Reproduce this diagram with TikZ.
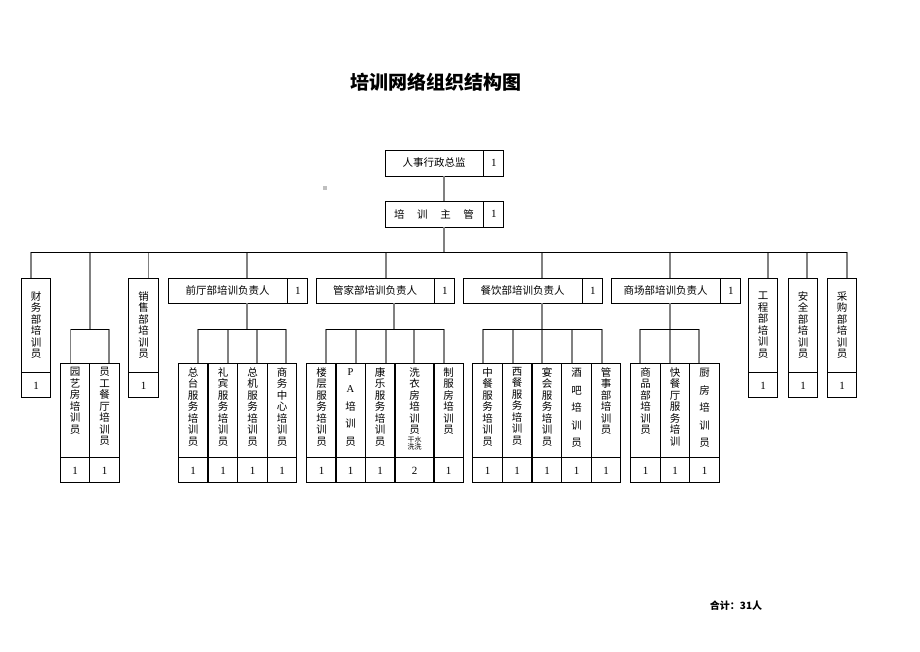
\documentclass[tikz,border=0pt]{standalone}
\usepackage{fontspec}
\setmainfont{Noto Sans CJK SC}
\newfontfamily\numfont{Liberation Serif}
\usetikzlibrary{positioning}

\tikzset{
  box/.style={draw, line width=0.9pt, inner sep=0pt},
  hname/.style={box, minimum height=25pt, font=\fontsize{10.5}{12}\selectfont},
  hnum/.style={box, minimum height=25pt, minimum width=20pt, font=\numfont\fontsize{11}{12}\selectfont},
  vname/.style={box, minimum width=29.5pt, minimum height=94pt, align=center, font=\fontsize{10.5}{11.5}\selectfont},
  vtext/.style={anchor=north, inner sep=0pt, yshift=-4.5pt, align=center, font=\fontsize{10.5}{11.5}\selectfont},
  wtext/.style={vtext, yshift=-1pt, font=\fontsize{10.5}{17.5}\selectfont},
  subname/.style={vname, label={[vtext]north:{#1}}},
  widename/.style={vname, label={[wtext]north:{#1}}},
  vnum/.style={box, minimum width=29.5pt, minimum height=25pt, font=\numfont\fontsize{11}{12}\selectfont},
  vline/.style={draw=black!50, line width=1.3pt},
  hline/.style={draw=black, line width=0.9pt},
}

\begin{document}
\begin{tikzpicture}[x=1pt,y=-1pt]
  \useasboundingbox (0,0) rectangle (920,651);

  \node[font=\fontsize{19}{19}\selectfont\bfseries] (title) at (436,82) {培训网络组织结构图};

  % top
  \node[hname, minimum width=98pt, minimum height=26pt] (dir) at (434,163) {人事行政总监};
  \node[hnum, minimum height=26pt, right=0pt of dir] (dir-n) {1};
  \node[hname, minimum width=98pt, minimum height=26pt] (sup) at (434,214) {培\hspace{1.2em}训\hspace{1.2em}主\hspace{1.2em}管};
  \node[hnum, minimum height=26pt, right=0pt of sup] (sup-n) {1};
  \fill[black!25] (323,186) rectangle (327,190);

  % department heads
  \node[hname, minimum width=119pt] (qt) at (227.5,290.5) {前厅部培训负责人};
  \node[hnum, right=0pt of qt] (qt-n) {1};
  \node[hname, minimum width=118pt] (gj) at (375,290.5) {管家部培训负责人};
  \node[hnum, right=0pt of gj] (gj-n) {1};
  \node[hname, minimum width=119pt] (cy) at (522.5,290.5) {餐饮部培训负责人};
  \node[hnum, right=0pt of cy] (cy-n) {1};
  \node[hname, minimum width=109pt] (sc) at (665.5,290.5) {商场部培训负责人};
  \node[hnum, right=0pt of sc] (sc-n) {1};

  % single trainers
  \node[vname] (cw) at (36,325) {财\\务\\部\\培\\训\\员};
  \node[vnum, below=0pt of cw] (cw-n) {1};
  \node[vname] (xs) at (143.5,325) {销\\售\\部\\培\\训\\员};
  \node[vnum, below=0pt of xs] (xs-n) {1};
  \node[vname] (gc) at (763,325) {工\\程\\部\\培\\训\\员};
  \node[vnum, below=0pt of gc] (gc-n) {1};
  \node[vname] (aq) at (803,325) {安\\全\\部\\培\\训\\员};
  \node[vnum, below=0pt of aq] (aq-n) {1};
  \node[vname] (cg) at (842,325) {采\\购\\部\\培\\训\\员};
  \node[vnum, below=0pt of cg] (cg-n) {1};

  % second row
  \node[subname={园\\艺\\房\\培\\训\\员}] (yy1) at (75,410) {};
  \node[vnum, below=0pt of yy1] (yy1-n) {1};
  \node[subname={员\\工\\餐\\厅\\培\\训\\员}] (yy2) at (104.5,410) {};
  \node[vnum, below=0pt of yy2] (yy2-n) {1};

  \node[subname={总\\台\\服\\务\\培\\训\\员}] (qt1) at (193,410) {};
  \node[vnum, below=0pt of qt1] (qt1-n) {1};
  \node[subname={礼\\宾\\服\\务\\培\\训\\员}] (qt2) at (223,410) {};
  \node[vnum, below=0pt of qt2] (qt2-n) {1};
  \node[subname={总\\机\\服\\务\\培\\训\\员}] (qt3) at (252.5,410) {};
  \node[vnum, below=0pt of qt3] (qt3-n) {1};
  \node[subname={商\\务\\中\\心\\培\\训\\员}] (qt4) at (282,410) {};
  \node[vnum, below=0pt of qt4] (qt4-n) {1};

  \node[subname={楼\\层\\服\\务\\培\\训\\员}] (gj1) at (321.5,410) {};
  \node[vnum, below=0pt of gj1] (gj1-n) {1};
  \node[widename={{\numfont P}\\{\numfont A}\\培\\训\\员}] (gj2) at (350.5,410) {};
  \node[vnum, below=0pt of gj2] (gj2-n) {1};
  \node[subname={康\\乐\\服\\务\\培\\训\\员}] (gj3) at (380,410) {};
  \node[vnum, below=0pt of gj3] (gj3-n) {1};
  \node[subname={洗\\衣\\房\\培\\训\\员\\[-3pt]{\fontsize{7}{7}\selectfont 干水}\\[-4.5pt]{\fontsize{7}{7}\selectfont 洗洗}}, minimum width=39pt] (gj4) at (414.5,410) {};
  \node[vnum, minimum width=39pt, below=0pt of gj4] (gj4-n) {2};
  \node[subname={制\\服\\房\\培\\训\\员}] (gj5) at (448.5,410) {};
  \node[vnum, below=0pt of gj5] (gj5-n) {1};

  \node[subname={中\\餐\\服\\务\\培\\训\\员}] (cy1) at (487.5,410) {};
  \node[vnum, below=0pt of cy1] (cy1-n) {1};
  \node[subname={西\\餐\\服\\务\\培\\训\\员}] (cy2) at (517,410) {};
  \node[vnum, below=0pt of cy2] (cy2-n) {1};
  \node[subname={宴\\会\\服\\务\\培\\训\\员}] (cy3) at (547,410) {};
  \node[vnum, below=0pt of cy3] (cy3-n) {1};
  \node[widename={酒\\吧\\培\\训\\员}] (cy4) at (576.5,410) {};
  \node[vnum, below=0pt of cy4] (cy4-n) {1};
  \node[subname={管\\事\\部\\培\\训\\员}] (cy5) at (606,410) {};
  \node[vnum, below=0pt of cy5] (cy5-n) {1};

  \node[subname={商\\品\\部\\培\\训\\员}] (sc1) at (645.5,410) {};
  \node[vnum, below=0pt of sc1] (sc1-n) {1};
  \node[subname={快\\餐\\厅\\服\\务\\培\\训}] (sc2) at (675,410) {};
  \node[vnum, below=0pt of sc2] (sc2-n) {1};
  \node[widename={厨\\房\\培\\训\\员}] (sc3) at (704.5,410) {};
  \node[vnum, below=0pt of sc3] (sc3-n) {1};

  \node[font=\fontsize{10}{12}\selectfont\bfseries] (total) at (736,606) {合计：31人};

  % connectors
  \coordinate (trunk) at (444,252);
  \draw[vline] (dir.south -| trunk) -- (sup.north -| trunk);
  \draw[vline] (sup.south -| trunk) -- (trunk);
  \foreach \x/\n in {31/cw,148.7/xs,247/qt,386/gj,542/cy,670/sc,768/gc,807/aq,847/cg}
    \draw[vline] (\x,252) -- (\x,252 |- \n.north);
  \draw[vline] (90,252) -- (90,329);
  \foreach \x/\n in {247/qt,394/gj,542/cy,670/sc}
    \draw[vline] (\x,329 |- \n.south) -- (\x,329);
  \foreach \x/\n in {70.7/yy1,109/yy2,198/qt1,228/qt2,257/qt3,286/qt4,326/gj1,356/gj2,386/gj3,414/gj4,444/gj5,483/cy1,513/cy2,542/cy3,572/cy4,602/cy5,640/sc1,670/sc2,699/sc3}
    \draw[vline] (\x,329) -- (\x,329 |- \n.north);

  \draw[hline] (31,252) -- (847,252);
  \draw[hline] (70.7,329) -- (109,329);
  \draw[hline] (198,329) -- (286,329);
  \draw[hline] (326,329) -- (444,329);
  \draw[hline] (483,329) -- (602,329);
  \draw[hline] (640,329) -- (699,329);
\end{tikzpicture}
\end{document}
